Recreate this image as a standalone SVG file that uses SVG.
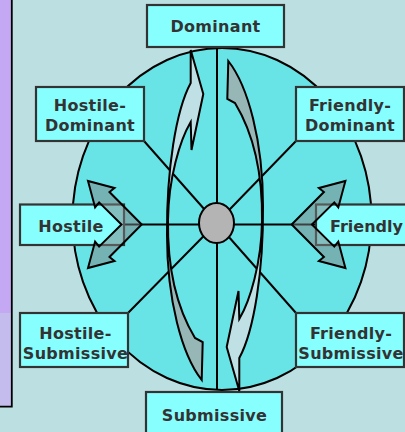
<svg xmlns="http://www.w3.org/2000/svg" width="405" height="432" viewBox="0 0 405 432">
<style>
.box{fill:#88FFFF;stroke:#333333;stroke-width:2.2}
.lbl{font-family:"DejaVu Sans",Verdana,sans-serif;font-weight:bold;font-size:16px;fill:#333333;text-anchor:middle;letter-spacing:0.3px}
.spoke{stroke:#000;stroke-width:2;fill:none}
.side{fill:#7F7F7F;fill-opacity:0.5;stroke:#000;stroke-width:2;stroke-linejoin:miter}
.curve{stroke:#000;stroke-width:2;stroke-linejoin:miter}
</style>
<defs>
<linearGradient id="cg" gradientUnits="userSpaceOnUse" x1="0" y1="50" x2="0" y2="380">
<stop offset="0" stop-color="#BFE1E5"/>
<stop offset="0.45" stop-color="#BFE1E5"/>
<stop offset="0.6" stop-color="#97B6B6"/>
<stop offset="1" stop-color="#97B6B6"/>
</linearGradient>
<path id="carrow" d="M 190.7 50 L 203.3 94 L 191.5 150 L 190.7 122 C 180 140 168.5 178 168 220 C 167.5 255 172 300 195 338 L 202.7 342 L 201.7 380 C 182 355 167 300 167 235 C 166.5 170 176 110 190.7 83 Z"/>
<polygon id="sarrow" points="141.7,224.5 109.5,192 114.5,188 88,181 95.1,207.4 99.1,202.4 121.5,224.5 99.1,246.6 95.1,241.6 88,268 114.5,261 109.5,257"/>
</defs>
<rect x="0" y="0" width="405" height="432" fill="#BCE0E2"/>
<g id="side-panel">
<rect x="0" y="0" width="12" height="313" fill="#C4A8F4"/>
<rect x="0" y="313" width="12" height="94" fill="#C3BCEC"/>
<path d="M11.8 0 V406.7 H0" fill="none" stroke="#000" stroke-width="1.8"/>
</g>
<g id="circle">
<ellipse cx="222" cy="219" rx="149.5" ry="171" fill="#68E4E6" stroke="#000" stroke-width="2"/>
</g>
<g id="connectors">
<line class="spoke" x1="217" y1="47" x2="217" y2="390"/>
<line class="spoke" x1="124" y1="224.5" x2="316" y2="224.5"/>
<line class="spoke" x1="144" y1="141" x2="216.5" y2="223"/>
<line class="spoke" x1="296" y1="141" x2="216.5" y2="223"/>
<line class="spoke" x1="128" y1="313" x2="216.5" y2="223"/>
<line class="spoke" x1="296" y1="313" x2="216.5" y2="223"/>
</g>
<g id="dominant"><rect class="box" x="147" y="5" width="137" height="42"/><text class="lbl" x="215.5" y="31.5">Dominant</text></g>
<g id="hostile-dominant"><rect class="box" x="36" y="87" width="108" height="54"/><text class="lbl" x="90" y="111">Hostile-</text><text class="lbl" x="90" y="131">Dominant</text></g>
<g id="friendly-dominant"><rect class="box" x="296" y="87" width="108" height="54"/><text class="lbl" x="350" y="110.5">Friendly-</text><text class="lbl" x="350" y="130.5">Dominant</text></g>
<g id="hostile"><rect class="box" x="20" y="204.5" width="104" height="40.5"/><text class="lbl" x="71" y="231.5">Hostile</text></g>
<g id="friendly"><rect class="box" x="316" y="204.5" width="100" height="40.5"/><text class="lbl" x="330" y="231.5" style="text-anchor:start;letter-spacing:0">Friendly</text></g>
<g id="hostile-submissive"><rect class="box" x="20" y="313" width="108" height="54"/><text class="lbl" x="75.5" y="339">Hostile-</text><text class="lbl" x="75.5" y="359">Submissive</text></g>
<g id="friendly-submissive"><rect class="box" x="296" y="313" width="108" height="54"/><text class="lbl" x="351" y="339">Friendly-</text><text class="lbl" x="351" y="359">Submissive</text></g>
<g id="submissive"><rect class="box" x="146" y="392" width="136" height="45"/><text class="lbl" x="214.5" y="420.5">Submissive</text></g>
<g id="curved-arrows">
<use href="#carrow" fill="url(#cg)" class="curve"/>
<use href="#carrow" fill="url(#cg)" class="curve" transform="rotate(180 215 220.5)"/>
</g>
<g id="side-arrows">
<use href="#sarrow" class="side"/>
<use href="#sarrow" class="side" transform="matrix(-1 0 0 1 433.4 0)"/>
</g>
<g id="center">
<ellipse cx="216.5" cy="223" rx="17.5" ry="20" fill="#B4B4B4" stroke="#000" stroke-width="2"/>
</g>
</svg>
